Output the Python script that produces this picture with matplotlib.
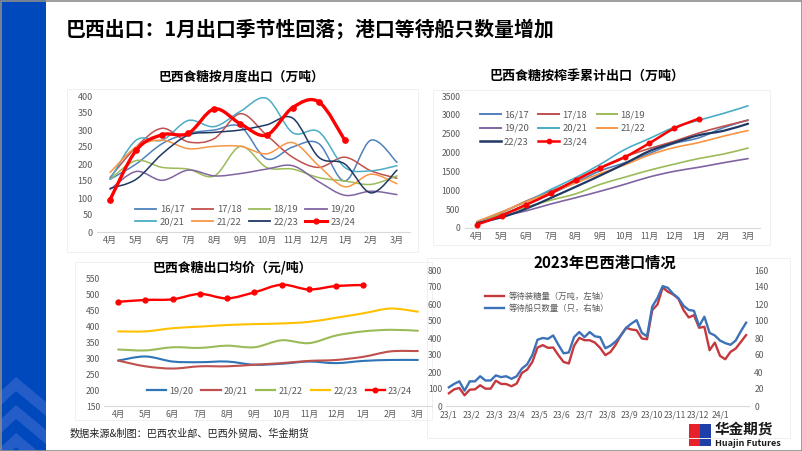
import numpy as np
import matplotlib
matplotlib.use('Agg')
import matplotlib.pyplot as plt
from matplotlib.path import Path
from matplotlib.patches import PathPatch, Rectangle, Polygon
from matplotlib.lines import Line2D

plt.rcParams['font.family'] = ['Noto Sans CJK SC', 'DejaVu Sans']

# ---------------- data ----------------
months = ['4月', '5月', '6月', '7月', '8月', '9月', '10月', '11月', '12月', '1月', '2月', '3月']

# monthly exports (万吨)
exp_1617 = [155, 200, 260, 290, 300, 310, 215, 250, 260, 150, 270, 205]
exp_1718 = [160, 250, 305, 265, 275, 348, 285, 220, 190, 220, 180, 158]
exp_1819 = [155, 210, 190, 185, 165, 252, 190, 185, 160, 150, 140, 165]
exp_1920 = [125, 178, 152, 182, 165, 172, 185, 195, 148, 108, 120, 110]
exp_2021 = [155, 270, 270, 328, 310, 355, 393, 292, 295, 190, 180, 195]
exp_2122 = [175, 250, 270, 245, 252, 252, 230, 263, 195, 133, 170, 142]
exp_2223 = [128, 155, 230, 285, 293, 300, 315, 335, 220, 200, 115, 182]
exp_2324 = [95, 240, 286, 290, 362, 318, 285, 366, 383, 270]

# cumulative exports (万吨)
cum_1617 = [155, 355, 615, 905, 1205, 1515, 1730, 1980, 2240, 2390, 2660, 2865]
cum_1718 = [160, 410, 715, 980, 1255, 1603, 1888, 2108, 2298, 2518, 2698, 2856]
cum_1819 = [155, 365, 555, 740, 905, 1157, 1347, 1532, 1692, 1842, 1960, 2120]
cum_1920 = [125, 303, 455, 637, 802, 974, 1159, 1354, 1502, 1610, 1730, 1840]
cum_2021 = [155, 425, 695, 1023, 1333, 1688, 2081, 2373, 2668, 2858, 3038, 3240]
cum_2122 = [175, 425, 695, 940, 1192, 1444, 1674, 1937, 2132, 2265, 2435, 2585]
cum_2223 = [128, 283, 513, 798, 1091, 1391, 1706, 2041, 2261, 2461, 2576, 2765]
cum_2324 = [90, 330, 620, 920, 1270, 1590, 1880, 2250, 2640, 2900]

# average export price
price_1920 = [293, 306, 290, 288, 290, 280, 283, 290, 285, 292, 295, 295]
price_2021 = [293, 275, 268, 275, 275, 280, 285, 292, 295, 305, 322, 323]
price_2122 = [328, 325, 335, 333, 340, 335, 357, 348, 372, 385, 390, 387]
price_2223 = [385, 385, 395, 400, 405, 408, 410, 415, 428, 442, 457, 447]
price_2324 = [478, 484, 486, 503, 489, 508, 532, 517, 528, 531]

# port line-up (weekly)
port_labels = ['23/1', '23/2', '23/3', '23/4', '23/5', '23/6', '23/7', '23/8',
               '23/9', '23/10', '23/11', '23/12', '24/1']
sugar_wait = [75, 98, 106, 63, 96, 98, 122, 102, 102, 149, 130, 129, 116, 132,
              194, 214, 259, 344, 358, 342, 344, 299, 259, 250, 354, 401, 387,
              387, 373, 342, 299, 318, 361, 417, 460, 450, 446, 397, 393, 564,
              597, 697, 672, 656, 632, 564, 521, 534, 460, 466, 328, 373, 295,
              275, 318, 338, 377, 417]
ships_wait = [22, 26, 29, 18, 29, 29, 35, 30, 30, 36, 34, 35, 32, 35,
              44, 49, 60, 78, 80, 79, 83, 72, 62, 63, 81, 87, 81,
              87, 82, 81, 68, 71, 76, 83, 92, 97, 101, 86, 82, 117,
              127, 141, 139, 132, 127, 118, 113, 112, 94, 105, 86, 83, 77,
              74, 72, 77, 88, 98]

# ---------------- helpers ----------------
W, H = 802, 451
fig = plt.figure(figsize=(W / 100, H / 100), dpi=100)
fig.patch.set_facecolor('white')

bg = fig.add_axes([0, 0, 1, 1], zorder=0)
bg.set_xlim(0, W)
bg.set_ylim(H, 0)
bg.axis('off')


def add_ax(l, t, r, b):
    a = fig.add_axes([l / W, 1 - b / H, (r - l) / W, (b - t) / H], zorder=2)
    a.set_facecolor('none')
    return a


def smooth_path(x, y):
    x = np.asarray(x, float)
    y = np.asarray(y, float)
    n = len(x)
    verts = [(x[0], y[0])]
    codes = [Path.MOVETO]
    for i in range(n - 1):
        p0 = np.array([x[max(i - 1, 0)], y[max(i - 1, 0)]])
        p1 = np.array([x[i], y[i]])
        p2 = np.array([x[i + 1], y[i + 1]])
        p3 = np.array([x[min(i + 2, n - 1)], y[min(i + 2, n - 1)]])
        c1 = p1 + (p2 - p0) / 6.0
        c2 = p2 - (p3 - p1) / 6.0
        verts += [tuple(c1), tuple(c2), tuple(p2)]
        codes += [Path.CURVE4] * 3
    return Path(verts, codes)


def smooth_line(ax, y, color, lw, z=3):
    x = np.arange(len(y))
    ax.add_patch(PathPatch(smooth_path(x, y), fill=False, edgecolor=color,
                           lw=lw, capstyle='round', joinstyle='round', zorder=z))


TICK_C = '#595959'
AX_C = '#d9d9d9'


def style(ax, fs=6.5):
    for s in ['top', 'right', 'left']:
        ax.spines[s].set_visible(False)
    ax.spines['bottom'].set_color(AX_C)
    ax.spines['bottom'].set_linewidth(0.8)
    ax.tick_params(length=0, labelsize=fs, colors=TICK_C, pad=3)


# ---------------- slide decoration ----------------
bg.add_patch(Rectangle((0, 0), 46, H, facecolor='#0049BD', edgecolor='none'))
chev_c = '#2E63CB'
for dy in (0, 28, 56):
    bg.add_patch(Polygon([(0, 392 + dy), (16, 377 + dy), (46, 402 + dy), (46, 416 + dy),
                          (16, 391 + dy), (0, 406 + dy)], closed=True,
                         facecolor=chev_c, edgecolor='none', alpha=0.8))
bg.add_patch(Rectangle((0.5, 0.5), W - 1, H - 1, facecolor='none', edgecolor='#8c8c8c', lw=1.2))

bg.text(66, 29, '巴西出口：1月出口季节性回落；港口等待船只数量增加', fontsize=14.3,
        fontweight='bold', va='center', ha='left', color='black')
bg.text(70, 434, '数据来源&制图：巴西农业部、巴西外贸局、华金期货', fontsize=7.3,
        va='center', ha='left', color='#222222')

# logo
bg.add_patch(Rectangle((689, 424), 11, 22, facecolor='#E8202A', edgecolor='none'))
bg.add_patch(Rectangle((700, 424), 11, 22, facecolor='#1E3FA8', edgecolor='none'))
bg.text(715, 429, '华金期货', fontsize=10.5, fontweight='bold', va='center', ha='left', color='#1a1a1a')
bg.text(715, 443, 'Huajin Futures', fontsize=6.5, fontweight='bold', va='center', ha='left', color='#1a1a1a')

# faint panel frames
for (l, t, r, b) in [(67, 89, 418, 252), (433, 90, 770, 245), (75, 262, 432, 420), (427, 258, 790, 438)]:
    bg.add_patch(Rectangle((l, t), r - l, b - t, facecolor='none', edgecolor='#f0f0f0', lw=0.7))

# ---------------- chart 1: monthly exports ----------------
c1617, c1718, c1819, c1920 = '#4F81BD', '#C0504D', '#9BBB59', '#8064A2'
c2021, c2122, c2223, c2324 = '#4BACC6', '#F79646', '#1F3864', '#FF0000'

ax1 = add_ax(97, 96, 410, 232)
style(ax1)
series1 = [(exp_1617, c1617, '16/17'), (exp_1718, c1718, '17/18'), (exp_1819, c1819, '18/19'),
           (exp_1920, c1920, '19/20'), (exp_2021, c2021, '20/21'), (exp_2122, c2122, '21/22'),
           (exp_2223, c2223, '22/23')]
handles = []
for vals, c, lab in series1:
    smooth_line(ax1, vals, c, 1.1)
    handles.append(Line2D([], [], color=c, lw=1.3, label=lab))
smooth_line(ax1, exp_2324, c2324, 2.4, z=5)
ax1.plot(np.arange(len(exp_2324)), exp_2324, 'o', color=c2324, ms=3.8, zorder=6)
handles.append(Line2D([], [], color=c2324, lw=2.2, marker='o', ms=3.5, label='23/24'))
ax1.set_xlim(-0.5, 11.5)
ax1.set_ylim(0, 400)
ax1.set_yticks(np.arange(0, 401, 50))
ax1.set_xticks(np.arange(12))
ax1.set_xticklabels(months)
handles = [handles[i] for i in (0, 4, 1, 5, 2, 6, 3, 7)]
fig.legend(handles=handles, ncol=4, loc='center left', bbox_to_anchor=(130 / W, 1 - 215.5 / H),
           frameon=False, fontsize=6.8, handlelength=2.3, handletextpad=0.35,
           columnspacing=0.75, labelspacing=0.35, borderpad=0, labelcolor=TICK_C)
bg.text(241, 77, '巴西食糖按月度出口（万吨）', fontsize=9.2, fontweight='bold', ha='center', va='center')

# ---------------- chart 2: cumulative exports ----------------
ax2 = add_ax(464.6, 96, 760.4, 228)
style(ax2, 6.2)
series2 = [(cum_1617, c1617, '16/17'), (cum_1718, c1718, '17/18'), (cum_1819, c1819, '18/19'),
           (cum_1920, c1920, '19/20'), (cum_2021, c2021, '20/21'), (cum_2122, c2122, '21/22'),
           (cum_2223, c2223, '22/23')]
handles2 = []
for vals, c, lab in series2:
    lw = 1.6 if lab == '22/23' else 1.2
    smooth_line(ax2, vals, c, lw)
    handles2.append(Line2D([], [], color=c, lw=lw + 0.2, label=lab))
smooth_line(ax2, cum_2324, c2324, 1.8, z=5)
ax2.plot(np.arange(len(cum_2324)), cum_2324, 'o', color=c2324, ms=3.3, zorder=6)
handles2.append(Line2D([], [], color=c2324, lw=1.8, marker='o', ms=3.2, label='23/24'))
ax2.set_xlim(-0.5, 11.5)
ax2.set_ylim(0, 3500)
ax2.set_yticks(np.arange(0, 3501, 500))
ax2.set_xticks(np.arange(12))
ax2.set_xticklabels(months)
handles2 = [handles2[i] for i in (0, 3, 6, 1, 4, 7, 2, 5)]
fig.legend(handles=handles2, ncol=3, loc='center left', bbox_to_anchor=(475 / W, 1 - 128.5 / H),
           frameon=False, fontsize=6.8, handlelength=2.2, handletextpad=0.35,
           columnspacing=1.0, labelspacing=0.5, borderpad=0, labelcolor=TICK_C)
bg.text(587, 77, '巴西食糖按榨季累计出口（万吨）', fontsize=9.4, fontweight='bold', ha='center', va='center')

# ---------------- chart 3: export price ----------------
p1920, p2021, p2122, p2223 = '#2E75B6', '#C0504D', '#9BBB59', '#FFC000'
ax3 = add_ax(104.5, 279, 431.5, 406)
style(ax3, 6.2)
series3 = [(price_1920, p1920, '19/20'), (price_2021, p2021, '20/21'),
           (price_2122, p2122, '21/22'), (price_2223, p2223, '22/23')]
handles3 = []
for vals, c, lab in series3:
    smooth_line(ax3, vals, c, 1.5)
    handles3.append(Line2D([], [], color=c, lw=1.6, label=lab))
smooth_line(ax3, price_2324, c2324, 1.7, z=5)
ax3.plot(np.arange(len(price_2324)), price_2324, 'o', color=c2324, ms=3.5, zorder=6)
handles3.append(Line2D([], [], color=c2324, lw=1.7, marker='o', ms=3.3, label='23/24'))
ax3.set_xlim(-0.5, 11.5)
ax3.set_ylim(150, 550)
ax3.set_yticks(np.arange(150, 551, 50))
ax3.set_xticks(np.arange(12))
ax3.set_xticklabels(months)
fig.legend(handles=handles3, ncol=5, loc='center left', bbox_to_anchor=(142 / W, 1 - 391 / H),
           frameon=False, fontsize=6.6, handlelength=2.1, handletextpad=0.35,
           columnspacing=0.9, borderpad=0, labelcolor=TICK_C)
bg.text(232, 267, '巴西食糖出口均价（元/吨）', fontsize=9.3, fontweight='bold', ha='center', va='center')

# ---------------- chart 4: port line-up ----------------
sug_c, shp_c = '#C5393E', '#3D72B8'
ax4 = add_ax(446.3, 270, 748.7, 406)
style(ax4, 6.2)
xw = np.arange(len(sugar_wait))
ax4.plot(xw, sugar_wait, color=sug_c, lw=1.7, zorder=3)
ax4.set_xlim(-0.5, len(sugar_wait) - 0.5)
ax4.set_ylim(0, 800)
ax4.set_yticks(np.arange(0, 801, 100))
ax4.set_xticks(np.arange(len(port_labels)) * 52 / 12)
ax4.set_xticklabels(port_labels)
ax4b = ax4.twinx()
ax4b.set_facecolor('none')
for s in ['top', 'right', 'left', 'bottom']:
    ax4b.spines[s].set_visible(False)
ax4b.plot(np.arange(len(ships_wait)), ships_wait, color=shp_c, lw=1.7, zorder=3)
ax4b.set_ylim(0, 160)
ax4b.set_yticks(np.arange(0, 161, 20))
ax4b.tick_params(length=0, labelsize=6.2, colors=TICK_C, pad=4)
h4 = [Line2D([], [], color=sug_c, lw=1.7, label='等待装糖量（万吨，左轴）'),
      Line2D([], [], color=shp_c, lw=1.7, label='等待船只数量（只，右轴）')]
fig.legend(handles=h4, ncol=1, loc='center left', bbox_to_anchor=(481 / W, 1 - 302.5 / H),
           frameon=False, fontsize=6.0, handlelength=2.3, handletextpad=0.5,
           labelspacing=0.45, borderpad=0, labelcolor=TICK_C)
bg.text(605, 263, '2023年巴西港口情况', fontsize=11, fontweight='bold', ha='center', va='center')

fig.savefig('out.png', dpi=100, facecolor='white')
